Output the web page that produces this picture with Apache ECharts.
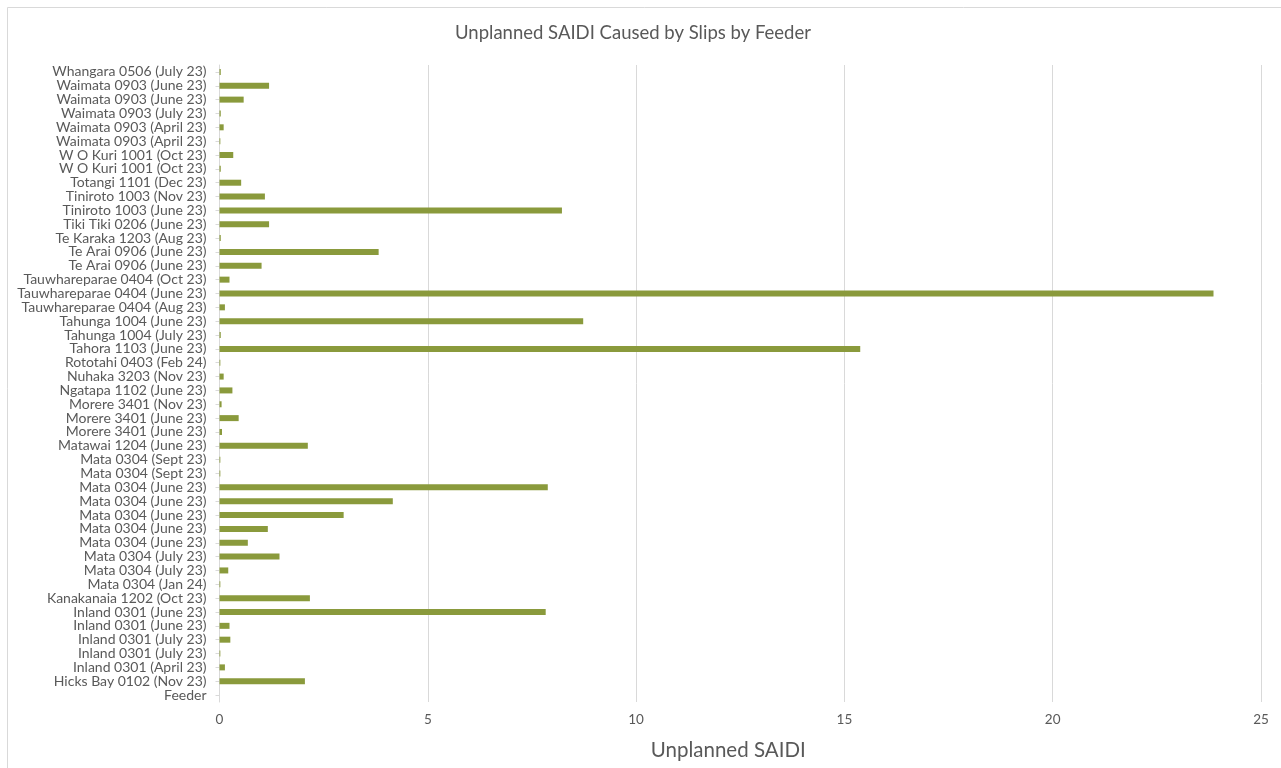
<!DOCTYPE html>
<html>
<head>
<meta charset="utf-8">
<script src="https://cdn.jsdelivr.net/npm/echarts@6/dist/echarts.min.js"></script>
<style>
  html, body { margin: 0; padding: 0; background: #ffffff; }
  #chart { width: 1281px; height: 768px; }
</style>
</head>
<body>
<div id="chart"></div>
<script>
// Feeder categories, listed top to bottom
const feeders = [
  'Whangara 0506 (July 23)',
  'Waimata 0903 (June 23)',
  'Waimata 0903 (June 23)',
  'Waimata 0903 (July 23)',
  'Waimata 0903 (April 23)',
  'Waimata 0903 (April 23)',
  'W O Kuri 1001 (Oct 23)',
  'W O Kuri 1001 (Oct 23)',
  'Totangi 1101 (Dec 23)',
  'Tiniroto 1003 (Nov 23)',
  'Tiniroto 1003 (June 23)',
  'Tiki Tiki 0206 (June 23)',
  'Te Karaka 1203 (Aug 23)',
  'Te Arai 0906 (June 23)',
  'Te Arai 0906 (June 23)',
  'Tauwhareparae 0404 (Oct 23)',
  'Tauwhareparae 0404 (June 23)',
  'Tauwhareparae 0404 (Aug 23)',
  'Tahunga 1004 (June 23)',
  'Tahunga 1004 (July 23)',
  'Tahora 1103 (June 23)',
  'Rototahi 0403 (Feb 24)',
  'Nuhaka 3203 (Nov 23)',
  'Ngatapa 1102 (June 23)',
  'Morere 3401 (Nov 23)',
  'Morere 3401 (June 23)',
  'Morere 3401 (June 23)',
  'Matawai 1204 (June 23)',
  'Mata 0304 (Sept 23)',
  'Mata 0304 (Sept 23)',
  'Mata 0304 (June 23)',
  'Mata 0304 (June 23)',
  'Mata 0304 (June 23)',
  'Mata 0304 (June 23)',
  'Mata 0304 (June 23)',
  'Mata 0304 (July 23)',
  'Mata 0304 (July 23)',
  'Mata 0304 (Jan 24)',
  'Kanakanaia 1202 (Oct 23)',
  'Inland 0301 (June 23)',
  'Inland 0301 (June 23)',
  'Inland 0301 (July 23)',
  'Inland 0301 (July 23)',
  'Inland 0301 (April 23)',
  'Hicks Bay 0102 (Nov 23)',
  'Feeder'
];

// Unplanned SAIDI per feeder event, same order as above
const saidi = [
  0.03, 1.19, 0.58, 0.03, 0.10, 0.02, 0.33, 0.03, 0.52, 1.09,
  8.22, 1.19, 0.03, 3.82, 1.01, 0.24, 23.86, 0.13, 8.73, 0.03,
  15.38, 0.02, 0.10, 0.31, 0.05, 0.46, 0.06, 2.12, 0.02, 0.02,
  7.88, 4.16, 2.98, 1.16, 0.68, 1.44, 0.21, 0.02, 2.17, 7.83,
  0.24, 0.26, 0.02, 0.13, 2.05, null
];

const xTicks = [0, 5, 10, 15, 20, 25];

const chart = echarts.init(document.getElementById('chart'), null, { renderer: 'canvas' });

const font = 'Lato, "Open Sans", sans-serif';

chart.setOption({
  backgroundColor: '#ffffff',
  animation: false,
  graphic: [{
    type: 'rect',
    shape: { x: 7.5, y: 7.5, width: 1400, height: 900 },
    style: { fill: 'none', stroke: '#d9d9d9', lineWidth: 1 },
    silent: true
  }],
  title: {
    text: 'Unplanned SAIDI Caused by Slips by Feeder',
    left: 450,
    top: 19,
    textStyle: { fontFamily: font, fontSize: 18.5, fontWeight: 'normal', color: '#595959' }
  },
  grid: { left: 219.5, right: 20, top: 65, bottom: 66 },
  xAxis: {
    type: 'value',
    min: xTicks[0],
    max: xTicks[xTicks.length - 1],
    interval: 5,
    name: 'Unplanned SAIDI',
    nameLocation: 'middle',
    nameGap: 38,
    nameTextStyle: { fontFamily: font, fontSize: 20.5, color: '#595959', padding: [0, 24, 0, 0] },
    axisLine: { show: false },
    axisTick: { show: false },
    axisLabel: { fontFamily: font, fontSize: 13.5, color: '#595959', margin: 11 },
    splitLine: { show: true, lineStyle: { color: '#d9d9d9', width: 1 } }
  },
  yAxis: {
    type: 'category',
    data: feeders,
    inverse: true,
    axisLine: { show: true, lineStyle: { color: '#d9d9d9', width: 1 } },
    axisTick: { show: true, alignWithLabel: true, length: 4, lineStyle: { color: '#d9d9d9' } },
    axisLabel: { fontFamily: font, fontSize: 14, color: '#595959', margin: 13, interval: 0 },
    splitLine: { show: false }
  },
  series: [{
    type: 'bar',
    data: saidi,
    barWidth: 6,
    itemStyle: { color: '#8a9a3c' }
  }]
});
</script>
</body>
</html>
